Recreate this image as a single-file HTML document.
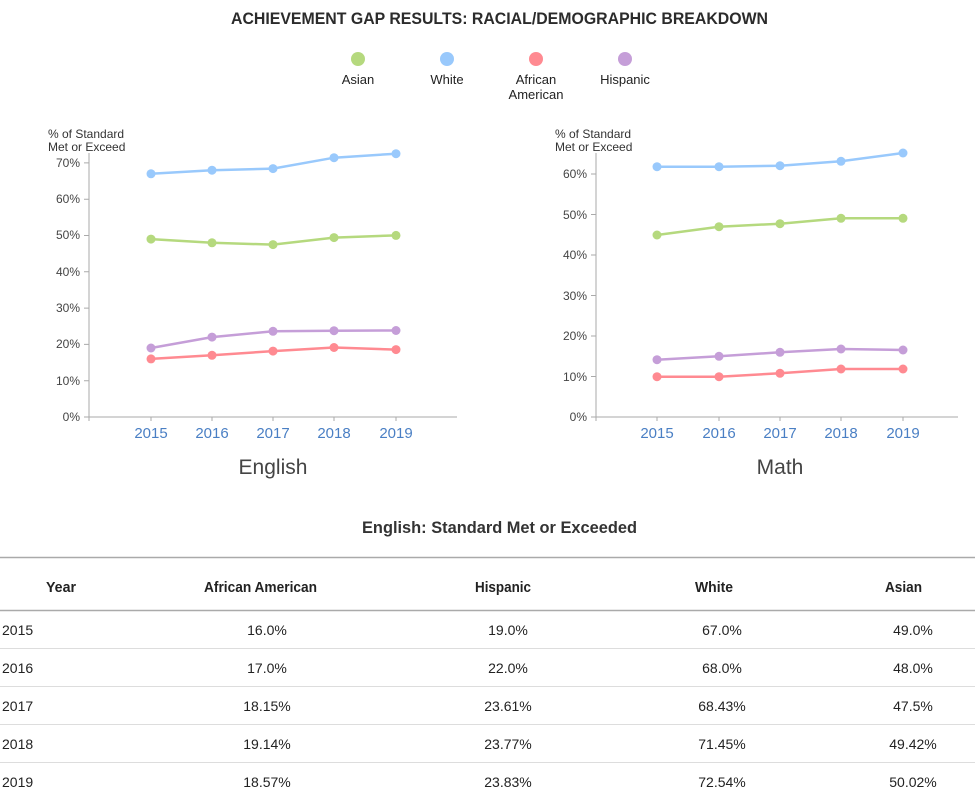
<!DOCTYPE html>
<html><head><meta charset="utf-8"><style>
body{margin:0;background:#fff;}
svg{display:block;font-family:"Liberation Sans",sans-serif;}
</style></head><body>
<svg width="975" height="805" viewBox="0 0 975 805">
<text x="231" y="24" font-size="17" font-weight="bold" fill="#2b2b2b" textLength="537" lengthAdjust="spacingAndGlyphs">ACHIEVEMENT GAP RESULTS: RACIAL/DEMOGRAPHIC BREAKDOWN</text>
<g font-size="13" fill="#222" text-anchor="middle">
<circle cx="358" cy="59" r="7" fill="#b5d97e"/><text x="358" y="84">Asian</text>
<circle cx="447" cy="59" r="7" fill="#99c9fc"/><text x="447" y="84">White</text>
<circle cx="536" cy="59" r="7" fill="#ff8a91"/><text x="536" y="84">African</text><text x="536" y="99">American</text>
<circle cx="625" cy="59" r="7" fill="#c59ed8"/><text x="625" y="84">Hispanic</text>
</g>
<!-- English chart -->
<text x="48" y="138" font-size="12" fill="#333">% of Standard</text>
<text x="48" y="151" font-size="12" fill="#333">Met or Exceed</text>
<path d="M89 153V421M89 417H457M84 417H89M84 380.7H89M84 344.4H89M84 308.1H89M84 271.8H89M84 235.5H89M84 199.2H89M84 162.9H89M151 417v4M212 417v4M273 417v4M334 417v4M396 417v4" stroke="#aaa" fill="none"/>
<g font-size="12" fill="#444" text-anchor="end">
<text x="80" y="421">0%</text><text x="80" y="385">10%</text><text x="80" y="348">20%</text><text x="80" y="312">30%</text><text x="80" y="276">40%</text><text x="80" y="239">50%</text><text x="80" y="203">60%</text><text x="80" y="167">70%</text>
</g>
<g font-size="15" fill="#4a7fc4" text-anchor="middle">
<text x="151" y="438">2015</text><text x="212" y="438">2016</text><text x="273" y="438">2017</text><text x="334" y="438">2018</text><text x="396" y="438">2019</text>
</g>
<text x="273" y="474" font-size="21" fill="#444" text-anchor="middle">English</text>
<g stroke-width="2.5" fill="none">
<polyline stroke="#99c9fc" points="151,173.8 212,170.2 273,168.6 334,157.7 396,153.7"/>
<polyline stroke="#b5d97e" points="151,239.1 212,242.8 273,244.6 334,237.6 396,235.4"/>
<polyline stroke="#c59ed8" points="151,348 212,337.1 273,331.3 334,330.7 396,330.5"/>
<polyline stroke="#ff8a91" points="151,358.9 212,355.3 273,351.1 334,347.5 396,349.6"/>
</g>
<g fill="#99c9fc"><circle cx="151" cy="173.8" r="4.5"/><circle cx="212" cy="170.2" r="4.5"/><circle cx="273" cy="168.6" r="4.5"/><circle cx="334" cy="157.7" r="4.5"/><circle cx="396" cy="153.7" r="4.5"/></g>
<g fill="#b5d97e"><circle cx="151" cy="239.1" r="4.5"/><circle cx="212" cy="242.8" r="4.5"/><circle cx="273" cy="244.6" r="4.5"/><circle cx="334" cy="237.6" r="4.5"/><circle cx="396" cy="235.4" r="4.5"/></g>
<g fill="#c59ed8"><circle cx="151" cy="348" r="4.5"/><circle cx="212" cy="337.1" r="4.5"/><circle cx="273" cy="331.3" r="4.5"/><circle cx="334" cy="330.7" r="4.5"/><circle cx="396" cy="330.5" r="4.5"/></g>
<g fill="#ff8a91"><circle cx="151" cy="358.9" r="4.5"/><circle cx="212" cy="355.3" r="4.5"/><circle cx="273" cy="351.1" r="4.5"/><circle cx="334" cy="347.5" r="4.5"/><circle cx="396" cy="349.6" r="4.5"/></g>
<!-- Math chart -->
<text x="555" y="138" font-size="12" fill="#333">% of Standard</text>
<text x="555" y="151" font-size="12" fill="#333">Met or Exceed</text>
<path d="M596 153V421M596 417H958M591 417H596M591 376.5H596M591 336H596M591 295.5H596M591 255H596M591 214.5H596M591 174H596M657 417v4M719 417v4M780 417v4M841 417v4M903 417v4" stroke="#aaa" fill="none"/>
<g font-size="12" fill="#444" text-anchor="end">
<text x="587" y="421">0%</text><text x="587" y="381">10%</text><text x="587" y="340">20%</text><text x="587" y="300">30%</text><text x="587" y="259">40%</text><text x="587" y="219">50%</text><text x="587" y="178">60%</text>
</g>
<g font-size="15" fill="#4a7fc4" text-anchor="middle">
<text x="657" y="438">2015</text><text x="719" y="438">2016</text><text x="780" y="438">2017</text><text x="841" y="438">2018</text><text x="903" y="438">2019</text>
</g>
<text x="780" y="474" font-size="21" fill="#444" text-anchor="middle">Math</text>
<g stroke-width="2.5" fill="none">
<polyline stroke="#99c9fc" points="657,166.7 719,166.7 780,165.7 841,161.3 903,153"/>
<polyline stroke="#b5d97e" points="657,235 719,226.7 780,223.7 841,218.3 903,218.3"/>
<polyline stroke="#c59ed8" points="657,359.7 719,356.3 780,352.3 841,349 903,350"/>
<polyline stroke="#ff8a91" points="657,376.7 719,376.7 780,373.3 841,369 903,369"/>
</g>
<g fill="#99c9fc"><circle cx="657" cy="166.7" r="4.5"/><circle cx="719" cy="166.7" r="4.5"/><circle cx="780" cy="165.7" r="4.5"/><circle cx="841" cy="161.3" r="4.5"/><circle cx="903" cy="153" r="4.5"/></g>
<g fill="#b5d97e"><circle cx="657" cy="235" r="4.5"/><circle cx="719" cy="226.7" r="4.5"/><circle cx="780" cy="223.7" r="4.5"/><circle cx="841" cy="218.3" r="4.5"/><circle cx="903" cy="218.3" r="4.5"/></g>
<g fill="#c59ed8"><circle cx="657" cy="359.7" r="4.5"/><circle cx="719" cy="356.3" r="4.5"/><circle cx="780" cy="352.3" r="4.5"/><circle cx="841" cy="349" r="4.5"/><circle cx="903" cy="350" r="4.5"/></g>
<g fill="#ff8a91"><circle cx="657" cy="376.7" r="4.5"/><circle cx="719" cy="376.7" r="4.5"/><circle cx="780" cy="373.3" r="4.5"/><circle cx="841" cy="369" r="4.5"/><circle cx="903" cy="369" r="4.5"/></g>
<!-- Table -->
<text x="362" y="533" font-size="17" font-weight="bold" fill="#333" textLength="275" lengthAdjust="spacingAndGlyphs">English: Standard Met or Exceeded</text>
<path d="M0 557.5H975M0 610.5H975" stroke="#aaa" stroke-width="1.5"/>
<path d="M0 648.5H975M0 686.5H975M0 724.5H975M0 762.5H975" stroke="#ddd"/>
<g font-size="15" font-weight="bold" fill="#222">
<text x="46" y="592" textLength="30" lengthAdjust="spacingAndGlyphs">Year</text>
<text x="204" y="592" textLength="113" lengthAdjust="spacingAndGlyphs">African American</text>
<text x="475" y="592" textLength="56" lengthAdjust="spacingAndGlyphs">Hispanic</text>
<text x="695" y="592" textLength="38" lengthAdjust="spacingAndGlyphs">White</text>
<text x="885" y="592" textLength="37" lengthAdjust="spacingAndGlyphs">Asian</text>
</g>
<g font-size="14" fill="#222">
<text x="2" y="635">2015</text><text x="2" y="673">2016</text><text x="2" y="711">2017</text><text x="2" y="749">2018</text><text x="2" y="787">2019</text>
<g text-anchor="middle">
<text x="267" y="635">16.0%</text><text x="508" y="635">19.0%</text><text x="722" y="635">67.0%</text><text x="913" y="635">49.0%</text>
<text x="267" y="673">17.0%</text><text x="508" y="673">22.0%</text><text x="722" y="673">68.0%</text><text x="913" y="673">48.0%</text>
<text x="267" y="711">18.15%</text><text x="508" y="711">23.61%</text><text x="722" y="711">68.43%</text><text x="913" y="711">47.5%</text>
<text x="267" y="749">19.14%</text><text x="508" y="749">23.77%</text><text x="722" y="749">71.45%</text><text x="913" y="749">49.42%</text>
<text x="267" y="787">18.57%</text><text x="508" y="787">23.83%</text><text x="722" y="787">72.54%</text><text x="913" y="787">50.02%</text>
</g></g>
</svg>
</body></html>
